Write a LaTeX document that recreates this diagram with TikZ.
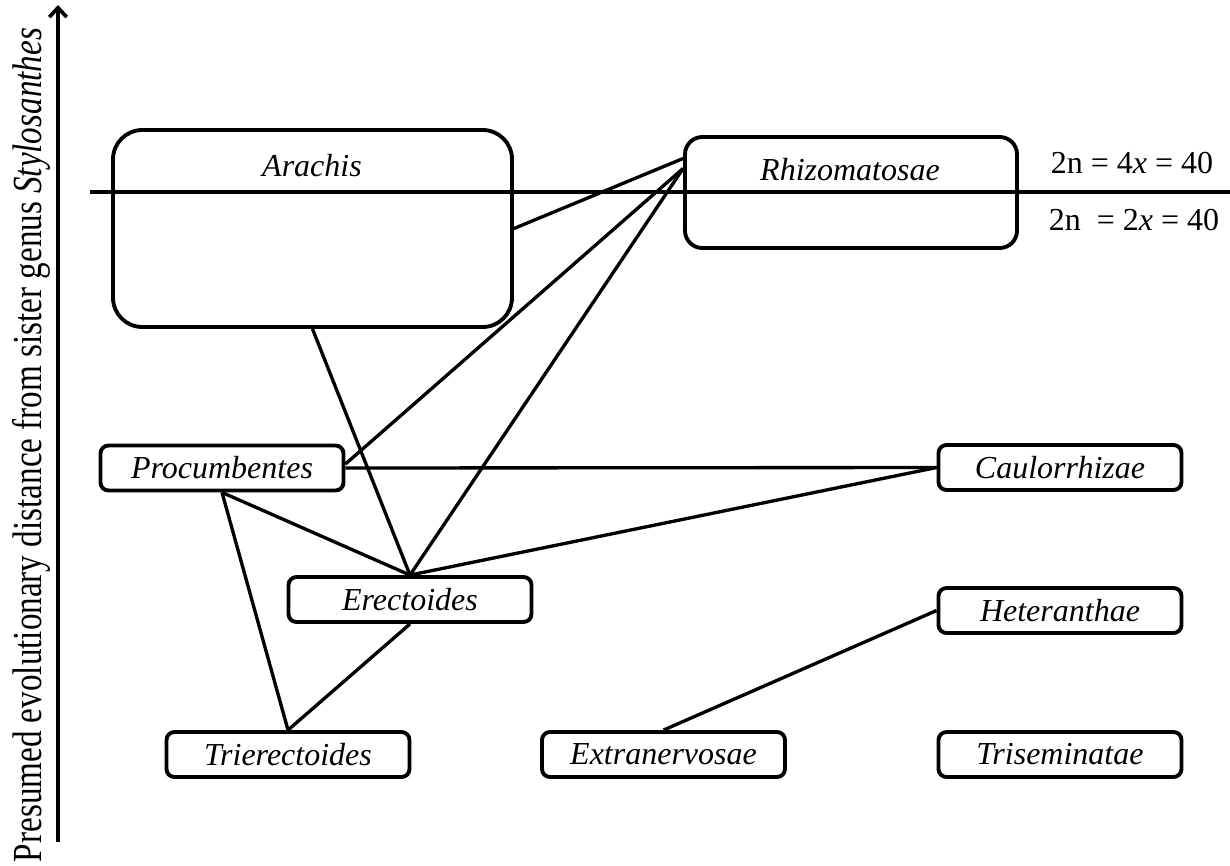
\documentclass[tikz,border=0pt]{standalone}
\usepackage{fontspec}
\setmainfont{Liberation Serif}
\usepackage{graphicx}
\usetikzlibrary{arrows.meta,calc}

\tikzset{
  taxon/.style={draw, line width=2.9pt, rounded corners=6pt,
    minimum width=182.25pt, minimum height=33.75pt, inner sep=0pt,
    font=\fontsize{24}{28}\selectfont\itshape},
  bigbox/.style={draw, line width=2.9pt, inner sep=0pt},
  boxname/.style={inner sep=0pt, font=\fontsize{24}{28}\selectfont\itshape},
  ploidy/.style={inner sep=0pt, font=\fontsize{24}{28}\selectfont},
  link/.style={line width=2.5pt},
  axis/.style={line width=2.8pt, -{Straight Barb[length=7pt,width=13pt]}}
}

\begin{document}
\begin{tikzpicture}[x=0.75pt,y=-0.75pt]
\useasboundingbox (0,0) rectangle (1230,865);

% vertical axis
\coordinate (axisfoot) at (58,842);
\coordinate (axistip) at (58,5);
\draw[axis] (axisfoot) -- (axistip);
\node[rotate=90, anchor=base, inner sep=0pt] (axislabel) at (41,445)
  {\resizebox{625.5pt}{\height}{\fontsize{31}{36}\selectfont Presumed evolutionary distance from sister genus \textit{Stylosanthes}}};

% section boxes
\node[bigbox, minimum width=299.25pt, minimum height=147.75pt, rounded corners=22pt] (arachis) at (312.5,228.5) {};
\node[boxname] (arachisname) at (312,166) {Arachis};
\node[bigbox, minimum width=249pt, minimum height=83.25pt, rounded corners=13pt] (rhizo) at (851,192.5) {};
\node[boxname] (rhizoname) at (850,170) {Rhizomatosae};

\node[taxon] (procu) at (222,468) {Procumbentes};
\node[taxon] (erect) at (410,599.5) {Erectoides};
\node[taxon] (trier) at (288,754.5) {Trierectoides};
\node[taxon] (extra) at (663.5,754.5) {Extranervosae};
\node[taxon] (caulo) at (1060,467.5) {Caulorrhizae};
\node[taxon] (heter) at (1060,610.5) {Heteranthae};
\node[taxon] (trise) at (1060,754.5) {Triseminatae};

% ploidy divider
\coordinate (divL) at (90,192);
\coordinate (divR) at (1230,192);
\draw[link] (divL) -- (divR);
\node[ploidy] (tetra) at (1132,163) {2n = 4\textit{x} = 40};
\node[ploidy] (diplo) at (1134,220) {2n\ \ = 2\textit{x} = 40};

% relationships
\coordinate (rhizoA) at ($(rhizo.west)+(0,-34)$);
\coordinate (rhizoB) at ($(rhizo.west)+(0,-24)$);
\draw[link] (arachis.east) -- (rhizoA);
\draw[link] ($(procu.east)+(0,-4)$) -- (rhizoB);
\draw[link] (erect.north) -- (rhizoB);
\draw[link] (arachis.south) -- (erect.north);
\draw[link] (procu.east) -- (caulo.west);
\draw[link] (procu.south) -- (erect.north);
\draw[link] (erect.north) -- (caulo.west);
\draw[link] (procu.south) -- (trier.north);
\draw[link] (erect.south) -- (trier.north);
\draw[link] (heter.west) -- (extra.north);
\end{tikzpicture}
\end{document}
